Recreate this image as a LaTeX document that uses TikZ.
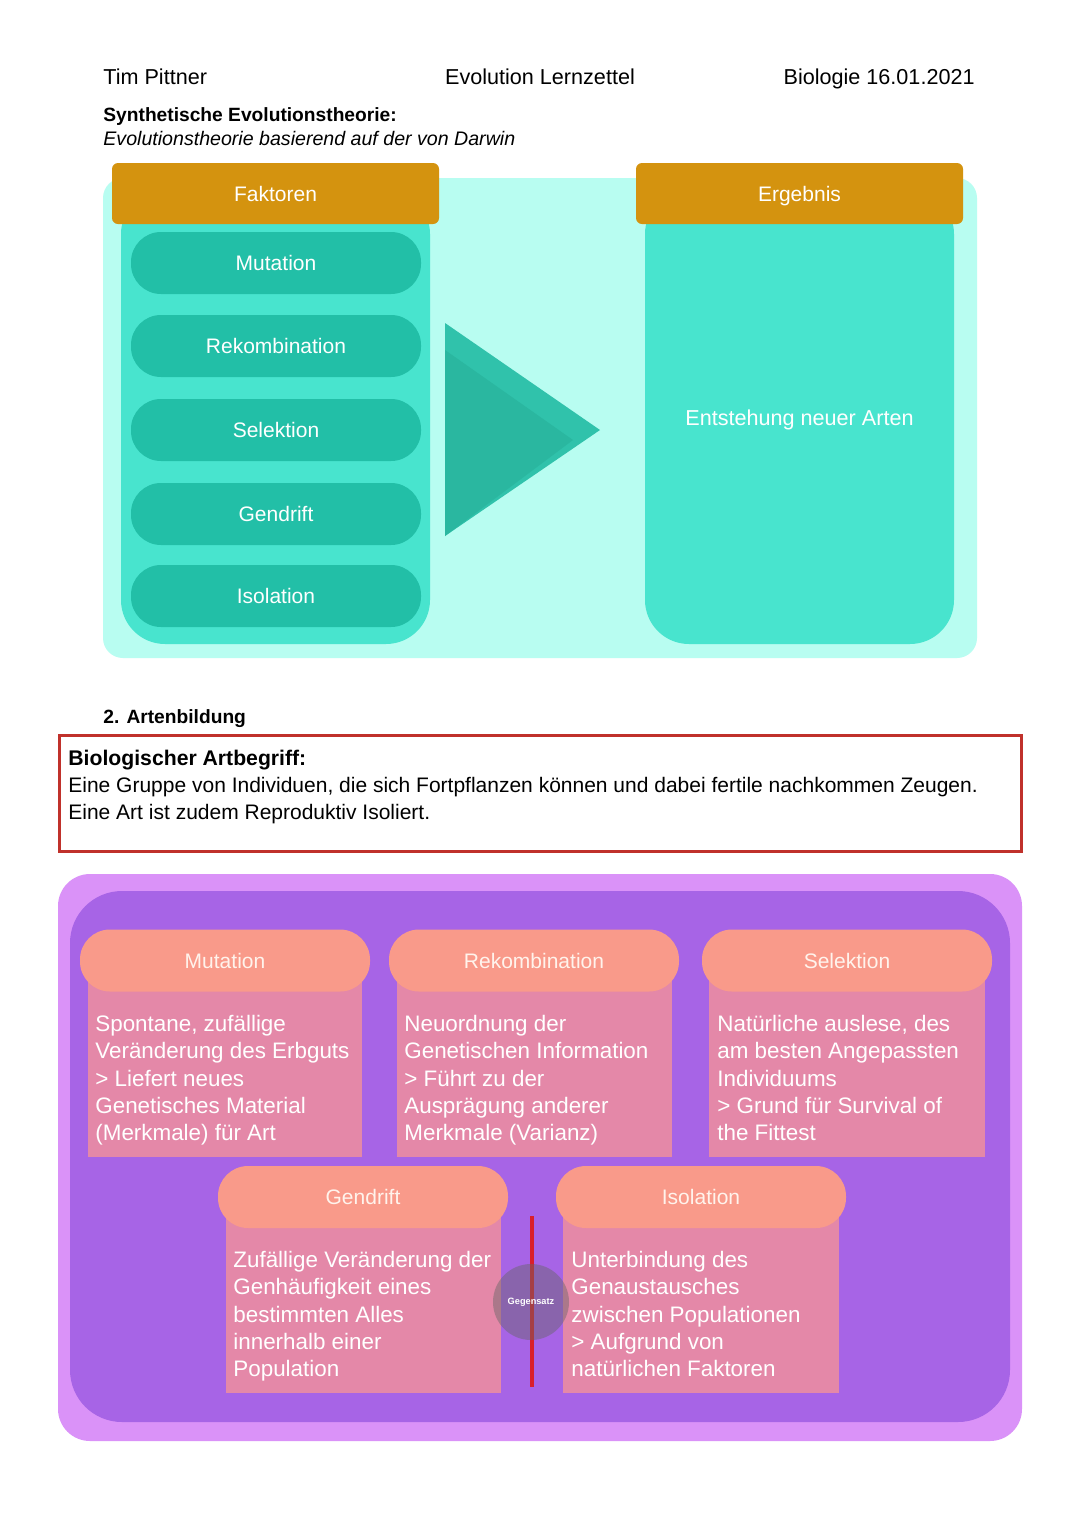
\documentclass[tikz,border=0pt]{standalone}
\usepackage{fontspec}
\setmainfont{Liberation Sans}
\definecolor{cyanbg}{HTML}{B8FDF1}
\definecolor{tealpanel}{HTML}{48E4CE}
\definecolor{tealpill}{HTML}{22BFA7}
\definecolor{gold}{HTML}{D4930F}
\definecolor{trilight}{HTML}{30C2AB}
\definecolor{tridark}{HTML}{2AB7A0}
\definecolor{boxred}{HTML}{C0312B}
\definecolor{lilac}{HTML}{DA92F8}
\definecolor{violet}{HTML}{A764E6}
\definecolor{salmon}{HTML}{F99A8A}
\definecolor{rosebody}{HTML}{E488A8}
\definecolor{pilltext}{HTML}{FFF3EC}
\definecolor{redline}{HTML}{D91F2A}
\begin{document}
\begin{tikzpicture}[x=0.5pt,y=-0.5pt,
  hdr/.style={font=\fontsize{10.8}{12}\selectfont, anchor=base},
  goldhdr/.style={fill=gold, rounded corners=3pt, text=white, text height=7.6pt, text depth=0pt, font=\fontsize{10.5}{12}\selectfont},
  tpill/.style={fill=tealpill, rounded corners=15pt, text=white, minimum width=145pt, minimum height=31pt, text height=7.6pt, text depth=0pt, font=\fontsize{10.5}{12}\selectfont},
  spill/.style={fill=salmon, rounded corners=15pt, text=pilltext, minimum width=145pt, minimum height=31pt, text height=7.6pt, text depth=0pt, font=\fontsize{10.5}{12}\selectfont},
  cardbody/.style={fill=rosebody},
  cardtext/.style={anchor=north west, text=white, align=left, inner sep=0pt, font=\fontsize{11.2}{13.6}\selectfont},
  bodytext/.style={anchor=base west, inner sep=0pt, font=\fontsize{10.5}{12}\selectfont}
]
\useasboundingbox (0,0) rectangle (1080,1527);
\fill[white] (0,0) rectangle (1080,1527);

% header
\node[hdr, anchor=base west, inner sep=0pt] (author) at (103,84) {Tim Pittner};
\node[hdr, inner sep=0pt] (title) at (540,84) {Evolution Lernzettel};
\node[hdr, anchor=base east, inner sep=0pt] (subject) at (975,84) {Biologie 16.01.2021};
\node[bodytext, font=\bfseries\fontsize{9.6}{11}\selectfont] (syn) at (103,121) {Synthetische Evolutionstheorie:};
\node[bodytext, font=\itshape\fontsize{9.8}{11}\selectfont] (synsub) at (103,145) {Evolutionstheorie basierend auf der von Darwin};

% top panel
\fill[cyanbg, rounded corners=10pt] (103,178) rectangle (977,658);
\fill[tealpanel, rounded corners=22pt] (121,190) rectangle (430,644);
\fill[tealpanel, rounded corners=22pt] (645,190) rectangle (954,644);
\node[goldhdr, minimum width=163.5pt, minimum height=30.5pt] (faktoren) at (275.5,193.5) {Faktoren};
\node[goldhdr, minimum width=163.5pt, minimum height=30.5pt] (ergebnis) at (799.5,193.5) {Ergebnis};
\node[tpill] (f1) at (276,263) {Mutation};
\node[tpill] (f2) at (276,346) {Rekombination};
\node[tpill] (f3) at (276,430) {Selektion};
\node[tpill] (f4) at (276,514) {Gendrift};
\node[tpill] (f5) at (276,596) {Isolation};
\fill[trilight] (445,323) -- (600,430) -- (445,536) -- cycle;
\fill[tridark] (445,350) -- (573,440) -- (445,536) -- cycle;
\node[text=white, font=\fontsize{10.8}{12}\selectfont] (result) at (799.5,420) {Entstehung neuer Arten};

% Artenbildung
\node[bodytext, font=\bfseries\fontsize{9.6}{11}\selectfont] (art) at (103,723) {2. Artenbildung};
\draw[boxred, line width=1.5pt] (59,735) rectangle (1021,851);
\node[bodytext, font=\bfseries\fontsize{10.6}{12}\selectfont] (bioart) at (68,765) {Biologischer Artbegriff:};
\node[bodytext] (def1) at (68,792) {Eine Gruppe von Individuen, die sich Fortpflanzen können und dabei fertile nachkommen Zeugen.};
\node[bodytext] (def2) at (68,819) {Eine Art ist zudem Reproduktiv Isoliert.};

% lower panel
\fill[lilac, rounded corners=16pt] (58,874) rectangle (1022,1441);
\fill[violet, rounded corners=26pt] (70,891) rectangle (1010,1422);

% cards row 1
\fill[cardbody] (88,975) rectangle (362,1157);
\fill[cardbody] (397,975) rectangle (672,1157);
\fill[cardbody] (709,975) rectangle (985,1157);
\node[spill] (m) at (225,960.5) {Mutation};
\node[spill] (r) at (534,960.5) {Rekombination};
\node[spill] (s) at (847,960.5) {Selektion};
\node[cardtext] (mt) at (95,1015) {Spontane, zufällige\\Veränderung des Erbguts\\> Liefert neues\\Genetisches Material\\(Merkmale) für Art};
\node[cardtext] (rt) at (404,1015) {Neuordnung der\\Genetischen Information\\> Führt zu der\\Ausprägung anderer\\Merkmale (Varianz)};
\node[cardtext] (st) at (717,1015) {Natürliche auslese, des\\am besten Angepassten\\Individuums\\> Grund für Survival of\\the Fittest};

% cards row 2
\fill[cardbody] (226,1212) rectangle (501,1393);
\fill[cardbody] (563,1212) rectangle (839,1393);
\node[spill] (g) at (363,1197) {Gendrift};
\node[spill] (i) at (701,1197) {Isolation};
\node[cardtext] (gt) at (233,1251) {Zufällige Veränderung der\\Genhäufigkeit eines\\bestimmten Alles\\innerhalb einer\\Population};
\node[cardtext] (it) at (571,1251) {Unterbindung des\\Genaustausches\\zwischen Populationen\\> Aufgrund von\\natürlichen Faktoren};

% Gegensatz
\coordinate (ltop) at (532,1216);
\coordinate (lbot) at (532,1387);
\draw[redline, line width=1.7pt] (ltop) -- (lbot);
\node[circle, fill=black!60, fill opacity=0.45, minimum size=38pt, inner sep=0pt] (gz) at (531,1302) {};
\node[text=white, font=\bfseries\fontsize{4.6}{5}\selectfont] (gzt) at (531,1302) {Gegensatz};
\end{tikzpicture}
\end{document}
